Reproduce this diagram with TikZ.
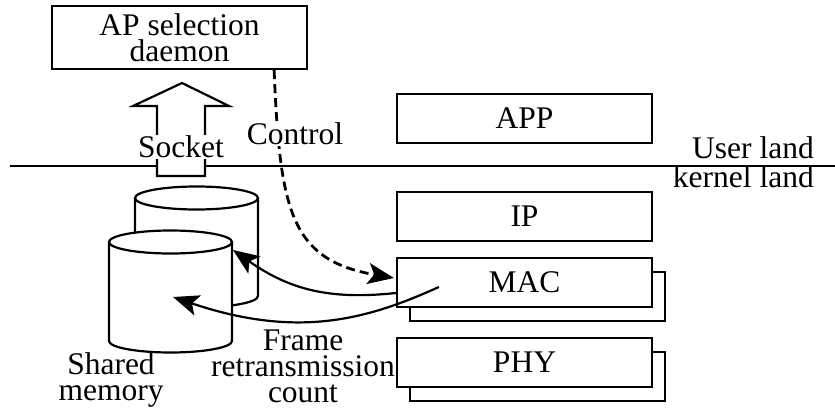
\documentclass[tikz,border=0pt]{standalone}
\usepackage{fontspec}
\setmainfont{Liberation Serif}
\usetikzlibrary{arrows.meta,calc}
\begin{document}
\begin{tikzpicture}[x=1pt,y=-1pt,
  every node/.style={font=\fontsize{31.5}{26}\selectfont},
  thick line/.style={line width=2.2pt},
  layerbox/.style={draw,thick line,fill=white,minimum width=255pt,minimum height=49pt,inner sep=0pt},
  shadowbox/.style={draw,thick line,fill=white,minimum width=255pt,minimum height=49pt,inner sep=0pt},
  label/.style={inner sep=1pt,align=center},
  tip/.style={-{Stealth[length=26pt,width=21pt,inset=6pt]}},
]
\useasboundingbox (0,0) rectangle (835,412);

% user/kernel boundary
\draw[thick line] (10,166) -- (835,166);
\node[label,anchor=base east] (user) at (815,158) {User land};
\node[label,anchor=base east] (kernel) at (815,187) {kernel land};

% daemon
\node[draw,thick line,minimum width=255pt,minimum height=63pt,inner sep=0pt,align=center] (daemon) at (179.5,37.5) {AP selection\\daemon};

% hollow socket arrow
\draw[thick line,fill=white,line join=miter] (157,176) -- (157,106) -- (133,106) -- (182,83) -- (229,106) -- (205,106) -- (205,176) -- cycle;
\node[label,fill=white] (socket) at (181,147) {Socket};

% protocol stack
\node[layerbox] (app) at (524.5,118.5) {APP};
\node[layerbox] (ip) at (524.5,216.5) {IP};
\node[shadowbox] (macs) at (537.5,296.5) {};
\node[layerbox] (mac) at (524.5,282.5) {MAC};
\node[shadowbox] (phys) at (537.5,376.5) {};
\node[layerbox] (phy) at (524.5,362.5) {PHY};

% shared memory cylinders
\foreach \cx/\ty/\by in {196.5/198/296, 170.5/242/341}{
  \draw[thick line,fill=white] (\cx-61.5,\ty) -- (\cx-61.5,\by) arc[start angle=180,end angle=360,x radius=61.5,y radius=-11.5] -- (\cx+61.5,\ty);
  \draw[thick line,fill=white] (\cx,\ty) ellipse[x radius=61.5,y radius=11.5];
}
\coordinate (memback) at (233,250);
\coordinate (memfront) at (173,297);
\node[label] (shared) at (111,380) {Shared\\memory};

% control path
\coordinate (ctlstart) at ($(daemon.south east)+(-34,0)$);
\draw[line width=2.8pt,dash pattern=on 9pt off 5pt,tip] (ctlstart) .. controls (280,210) and (290,260) .. ($(mac.west)+(-2,-4.5)$);
\node[label,fill=white] (control) at (295,134) {Control};

% retransmission count paths
\coordinate (src) at ($(mac.west)+(43,4.5)$);
\draw[thick line,tip] ($(mac.west)+(0,10.5)$) .. controls (330,300) and (290,290) .. (memback);
\draw[thick line,tip] (src) .. controls (370,318) and (300,340) .. (memfront);
\node[label] (frame) at (303,366) {Frame\\retransmission\\count};
\end{tikzpicture}
\end{document}
